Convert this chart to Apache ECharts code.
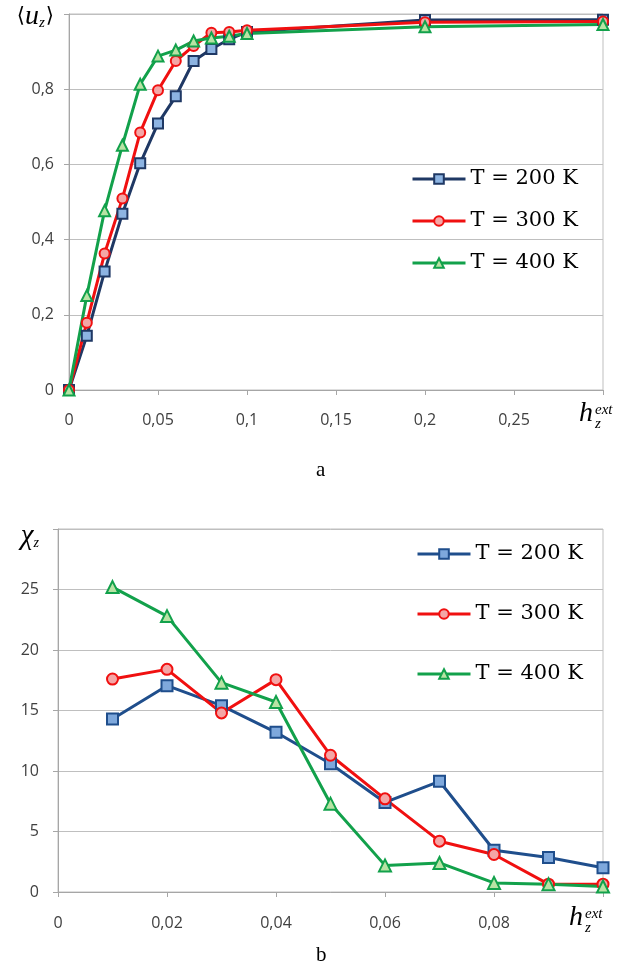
<!DOCTYPE html>
<html>
<head>
<meta charset="utf-8">
<script src="https://cdn.jsdelivr.net/npm/echarts@6/dist/echarts.min.js"></script>
<style>
  html, body { margin: 0; padding: 0; background: #fff; }
  #chartA { position: absolute; left: 0; top: 0; width: 629px; height: 487px; }
  #chartB { position: absolute; left: 0; top: 487px; width: 629px; height: 488px; }
</style>
</head>
<body>
<div id="chartA"></div>
<div id="chartB"></div>
<script>
// --- data (a): <u_z> vs h_z^ext
const hTop = [0, 0.01, 0.02, 0.03, 0.04, 0.05, 0.06, 0.07, 0.08, 0.09, 0.1, 0.2, 0.3];
const u200 = [0, 0.144, 0.315, 0.469, 0.603, 0.709, 0.781, 0.875, 0.907, 0.933, 0.952, 0.984, 0.985];
const u300 = [0, 0.179, 0.363, 0.509, 0.685, 0.797, 0.875, 0.915, 0.950, 0.952, 0.957, 0.978, 0.980];
const u400 = [0, 0.251, 0.477, 0.651, 0.813, 0.888, 0.904, 0.928, 0.936, 0.941, 0.948, 0.966, 0.972];

// --- data (b): chi_z vs h_z^ext
const hBottom = [0.01, 0.02, 0.03, 0.04, 0.05, 0.06, 0.07, 0.08, 0.09, 0.1];
const chi200 = [14.3, 17.05, 15.4, 13.2, 10.6, 7.4, 9.15, 3.45, 2.85, 2.0];
const chi300 = [17.6, 18.4, 14.8, 17.55, 11.3, 7.7, 4.2, 3.1, 0.65, 0.65];
const chi400 = [25.2, 22.8, 17.3, 15.7, 7.3, 2.2, 2.4, 0.75, 0.65, 0.45];

const names = ["T = 200 K", "T = 300 K", "T = 400 K"];

const labelFont = "Open Sans";
const serif = "Liberation Serif";
const legendFont = "DejaVu Serif";

// excel-like decimal comma
function fmt(v) {
  return String(+v.toFixed(4)).replace(".", ",");
}
function pairs(xs, ys) {
  return xs.map((x, i) => [x, ys[i]]);
}

function lineSeries(name, data, color, fill, symbol, size) {
  return {
    type: "line",
    name: name,
    data: data,
    symbol: symbol,
    symbolSize: size,
    lineStyle: { color: color, width: 3 },
    itemStyle: { color: fill, borderColor: color, borderWidth: 2 },
    animation: false,
  };
}

function axisCommon() {
  return {
    axisLine: { show: true, lineStyle: { color: "#a6a6a6", width: 1 } },
    axisTick: { show: true, inside: false, length: 5, lineStyle: { color: "#a6a6a6" } },
  };
}

function legendOpt(left, top, gap) {
  return {
    orient: "vertical",
    left: left,
    top: top,
    itemWidth: 53,
    itemHeight: 12,
    itemGap: gap,
    data: names,
    lineStyle: { width: 3 },
    textStyle: { fontFamily: legendFont, fontSize: 21, color: "#000", lineHeight: 26 },
  };
}

// h_z^ext drawn as three stacked texts
function hLabel(x, y) {
  return [
    { type: "text", left: x, top: y, style: { text: "h", font: "italic 28px " + serif, fill: "#000" } },
    { type: "text", left: x + 16, top: y + 3, style: { text: "ext", font: "italic 15px " + serif, fill: "#000" } },
    { type: "text", left: x + 16, top: y + 17, style: { text: "z", font: "italic 15px " + serif, fill: "#000" } },
  ];
}

// ---------- chart a ----------
const chartA = echarts.init(document.getElementById("chartA"));
chartA.setOption({
  backgroundColor: "#fff",
  grid: { left: 69, top: 14, width: 534, height: 376, show: true, borderColor: "#bfbfbf", borderWidth: 1 },
  legend: legendOpt(406, 161, 16),
  xAxis: Object.assign(axisCommon(), {
    type: "value",
    min: 0,
    max: 0.3,
    interval: 0.05,
    splitLine: { show: false },
    axisLabel: {
      margin: 22,
      fontFamily: labelFont,
      fontSize: 16,
      color: "#404040",
      formatter: (v) => (v > 0.29 ? "" : fmt(v)),
    },
  }),
  yAxis: Object.assign(axisCommon(), {
    type: "value",
    min: 0,
    max: 1,
    interval: 0.2,
    splitLine: { show: true, lineStyle: { color: "#bfbfbf", width: 1 } },
    axisLabel: {
      margin: 15,
      fontFamily: labelFont,
      fontSize: 16,
      color: "#404040",
      formatter: (v) => (v > 0.99 ? "{b|⟨}{u|u}{s|z}{b|⟩}" : fmt(v)),
      rich: {
        b: { fontFamily: "DejaVu Serif", fontSize: 21, color: "#000", padding: [6, 0, 0, 0] },
        u: { fontFamily: serif, fontStyle: "italic", fontSize: 28, color: "#000", padding: [6, 0, 0, 0] },
        s: { fontFamily: serif, fontStyle: "italic", fontSize: 15, color: "#000", verticalAlign: "bottom", padding: [10, 1, 0, 0] },
      },
    },
  }),
  series: [
    lineSeries(names[0], pairs(hTop, u200), "#1f3864", "#8db4e2", "rect", 10),
    lineSeries(names[1], pairs(hTop, u300), "#f01010", "#f4a6a6", "circle", 10),
    lineSeries(names[2], pairs(hTop, u400), "#12a14b", "#b8e3a4", "triangle", 11),
  ],
  graphic: hLabel(579, 400).concat([
    { type: "text", left: 316, top: 460, style: { text: "a", font: "21px " + serif, fill: "#000" } },
  ]),
});

// ---------- chart b ----------
const chartB = echarts.init(document.getElementById("chartB"));
chartB.setOption({
  backgroundColor: "#fff",
  grid: { left: 58, top: 42, width: 545, height: 363, show: true, borderColor: "#bfbfbf", borderWidth: 1 },
  legend: legendOpt(411, 49, 34),
  xAxis: Object.assign(axisCommon(), {
    type: "value",
    min: 0,
    max: 0.1,
    interval: 0.02,
    splitLine: { show: false },
    axisLabel: {
      margin: 23,
      fontFamily: labelFont,
      fontSize: 16,
      color: "#404040",
      formatter: (v) => (v > 0.099 ? "" : fmt(v)),
    },
  }),
  yAxis: Object.assign(axisCommon(), {
    type: "value",
    min: 0,
    max: 30,
    interval: 5,
    splitLine: { show: true, lineStyle: { color: "#bfbfbf", width: 1 } },
    axisLabel: {
      margin: 19,
      fontFamily: labelFont,
      fontSize: 16,
      color: "#404040",
      formatter: (v) => (v >= 30 ? "{c|χ}{s|z}" : fmt(v)),
      rich: {
        c: { fontFamily: serif, fontStyle: "italic", fontSize: 29, color: "#000", padding: [14, 0, 0, 0] },
        s: { fontFamily: serif, fontStyle: "italic", fontSize: 14, color: "#000", verticalAlign: "bottom", padding: [14, 0, 0, 0] },
      },
    },
  }),
  series: [
    lineSeries(names[0], pairs(hBottom, chi200), "#1f4e8c", "#7ea8dc", "rect", 11),
    lineSeries(names[1], pairs(hBottom, chi300), "#f01010", "#f4a6a6", "circle", 11),
    lineSeries(names[2], pairs(hBottom, chi400), "#12a14b", "#b8e3a4", "triangle", 12),
  ],
  graphic: hLabel(569, 417).concat([
    { type: "text", left: 316, top: 458, style: { text: "b", font: "21px " + serif, fill: "#000" } },
  ]),
});
</script>
</body>
</html>
